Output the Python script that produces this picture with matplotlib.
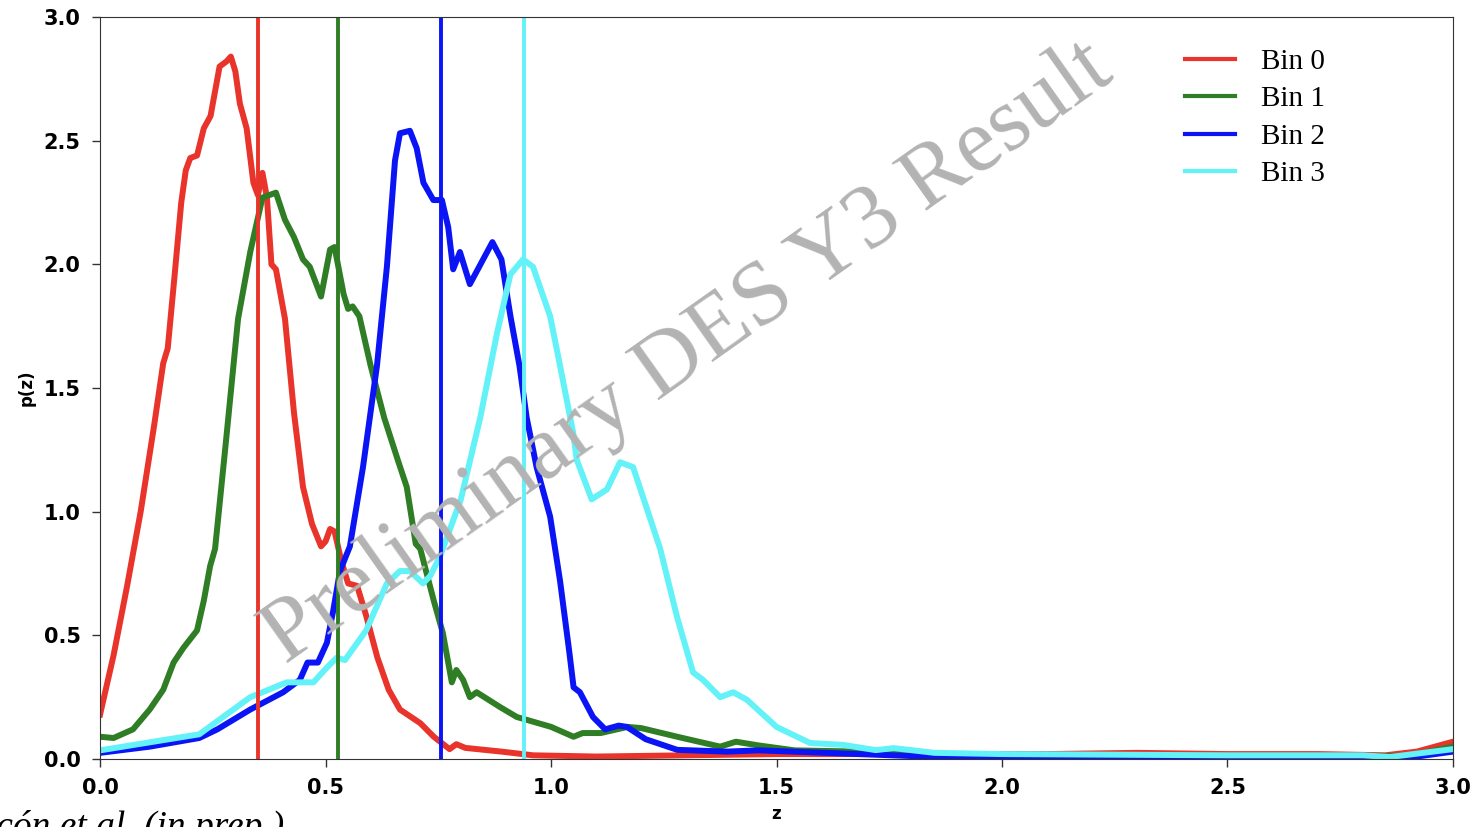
import matplotlib.pyplot as plt

# redshift distributions
z0 = [0.0, 0.03, 0.06, 0.09, 0.12, 0.14, 0.15, 0.165, 0.18, 0.19, 0.2, 0.215, 0.23, 0.245, 0.255,
      0.265, 0.28, 0.29, 0.3, 0.31, 0.325, 0.34, 0.35, 0.36, 0.37, 0.38, 0.39, 0.41, 0.43, 0.45,
      0.47, 0.49, 0.5, 0.51, 0.52, 0.535, 0.55, 0.57, 0.59, 0.615, 0.64, 0.665, 0.71, 0.74, 0.775,
      0.79, 0.81, 0.89, 0.96, 1.1, 1.3, 1.5, 1.8, 2.1, 2.3, 2.5, 2.7, 2.85, 2.92, 3.0]
p0 = [0.18, 0.42, 0.70, 1.0, 1.35, 1.6, 1.66, 1.95, 2.25, 2.38, 2.43, 2.44, 2.55, 2.6, 2.7,
      2.8, 2.82, 2.84, 2.78, 2.65, 2.55, 2.33, 2.28, 2.37, 2.27, 2.0, 1.98, 1.78, 1.4, 1.1,
      0.95, 0.86, 0.88, 0.93, 0.92, 0.8, 0.71, 0.70, 0.58, 0.41, 0.28, 0.2, 0.145, 0.09, 0.04,
      0.06, 0.045, 0.03, 0.015, 0.01, 0.015, 0.02, 0.02, 0.02, 0.025, 0.02, 0.02, 0.015, 0.03, 0.07]

z1 = [0.0, 0.03, 0.073, 0.11, 0.14, 0.163, 0.185, 0.215, 0.23, 0.244, 0.255, 0.28, 0.306, 0.333,
      0.36, 0.39, 0.41, 0.43, 0.45, 0.465, 0.49, 0.51, 0.52, 0.54, 0.55, 0.56, 0.575, 0.6, 0.63,
      0.66, 0.68, 0.70, 0.71, 0.74, 0.76, 0.78, 0.79, 0.805, 0.82, 0.835, 0.887, 0.924, 1.0,
      1.05, 1.07, 1.11, 1.17, 1.2, 1.28, 1.375, 1.41, 1.46, 1.54, 1.685, 1.85, 2.0, 2.5, 2.9, 3.0]
p1 = [0.09, 0.085, 0.12, 0.2, 0.28, 0.39, 0.45, 0.52, 0.64, 0.78, 0.85, 1.3, 1.78, 2.05,
      2.27, 2.29, 2.18, 2.11, 2.02, 1.99, 1.87, 2.06, 2.07, 1.88, 1.82, 1.83, 1.79, 1.59, 1.38,
      1.21, 1.10, 0.87, 0.85, 0.64, 0.51, 0.31, 0.36, 0.32, 0.25, 0.27, 0.21, 0.17, 0.13,
      0.09, 0.105, 0.105, 0.13, 0.125, 0.09, 0.05, 0.07, 0.055, 0.035, 0.03, 0.02, 0.015, 0.012, 0.012, 0.05]

z2 = [0.0, 0.11, 0.22, 0.26, 0.333, 0.406, 0.443, 0.46, 0.483, 0.503, 0.517, 0.532, 0.554,
      0.583, 0.614, 0.636, 0.654, 0.665, 0.687, 0.702, 0.717, 0.739, 0.758, 0.772, 0.783, 0.798,
      0.82, 0.87, 0.89, 0.91, 0.93, 0.946, 0.968, 0.998, 1.02, 1.04, 1.05, 1.064, 1.093, 1.12,
      1.15, 1.168, 1.21, 1.28, 1.39, 1.46, 1.61, 1.8, 2.0, 2.5, 2.9, 3.0]
p2 = [0.025, 0.05, 0.085, 0.12, 0.2, 0.27, 0.32, 0.39, 0.39, 0.47, 0.6, 0.76, 0.86,
      1.18, 1.59, 1.99, 2.42, 2.53, 2.54, 2.47, 2.33, 2.26, 2.26, 2.15, 1.98, 2.05,
      1.92, 2.09, 2.02, 1.79, 1.59, 1.38, 1.18, 0.98, 0.72, 0.44, 0.29, 0.27, 0.17, 0.12,
      0.135, 0.13, 0.08, 0.037, 0.03, 0.035, 0.025, 0.012, 0.008, 0.005, 0.005, 0.03]

z3 = [0.0, 0.22, 0.333, 0.414, 0.473, 0.503, 0.525, 0.543, 0.59, 0.636, 0.665, 0.687, 0.716,
      0.732, 0.754, 0.8, 0.843, 0.88, 0.91, 0.938, 0.96, 0.998, 1.02, 1.049, 1.057, 1.09, 1.124,
      1.153, 1.182, 1.242, 1.28, 1.315, 1.337, 1.375, 1.404, 1.434, 1.5, 1.574, 1.648, 1.72,
      1.76, 1.85, 2.0, 2.5, 2.8, 2.86, 3.0]
p3 = [0.035, 0.1, 0.25, 0.31, 0.31, 0.37, 0.41, 0.4, 0.52, 0.71, 0.76, 0.76, 0.71,
      0.74, 0.82, 1.05, 1.38, 1.72, 1.96, 2.02, 1.99, 1.79, 1.59, 1.32, 1.21, 1.05, 1.09,
      1.2, 1.18, 0.85, 0.57, 0.35, 0.32, 0.25, 0.27, 0.24, 0.13, 0.065, 0.057, 0.036,
      0.044, 0.025, 0.02, 0.015, 0.015, 0.008, 0.04]

labels = ["Bin 0", "Bin 1", "Bin 2", "Bin 3"]
means = [0.350, 0.528, 0.756, 0.940]
colors = ["#e8342a", "#2f7d25", "#0a14f5", "#62f2f7"]

fig = plt.figure(figsize=(14.76, 8.27), dpi=100)
ax = fig.add_axes([0.0678, 0.0822, 0.9166, 0.8972])

for zz, pp, lab, c in zip([z0, z1, z2, z3], [p0, p1, p2, p3], labels, colors):
    ax.plot(zz, pp, color=c, lw=4.3, label=lab, solid_joinstyle="round")
for m, c in zip(means, colors):
    ax.axvline(m, color=c, lw=2.8)

ax.set_xlim(0, 3.0)
ax.set_ylim(0, 3.0)
ax.set_xticks([0.0, 0.5, 1.0, 1.5, 2.0, 2.5, 3.0])
ax.set_yticks([0.0, 0.5, 1.0, 1.5, 2.0, 2.5, 3.0])
ax.tick_params(direction="out", length=6, width=1, colors="#333333", labelcolor="black",
               labelsize=15, pad=8)
for t in ax.get_xticklabels() + ax.get_yticklabels():
    t.set_fontweight("bold")
ax.set_xlabel("z", fontsize=12, fontweight="bold", labelpad=5)
ax.set_ylabel("p(z)", fontsize=12, fontweight="bold", labelpad=6)
for s in ax.spines.values():
    s.set_color("#333333")

leg = ax.legend(loc="upper right", bbox_to_anchor=(0.925, 0.993), frameon=False,
                prop={"family": "Liberation Serif", "size": 21}, handlelength=1.7,
                handletextpad=0.9, labelspacing=0.38)
for h in leg.get_lines():
    h.set_linewidth(3)

fig.text(0.466, 0.573, "Preliminary DES Y3 Result", fontsize=66, family="Liberation Serif",
         color="#b3b3b3", rotation=35.3, ha="center", va="center", rotation_mode="anchor")
fig.text(-0.047, -0.022, "Alarcón et al. (in prep.)", fontsize=27, family="Liberation Serif",
         style="italic", color="black", ha="left", va="bottom")

fig.savefig("out.png", dpi=100)
